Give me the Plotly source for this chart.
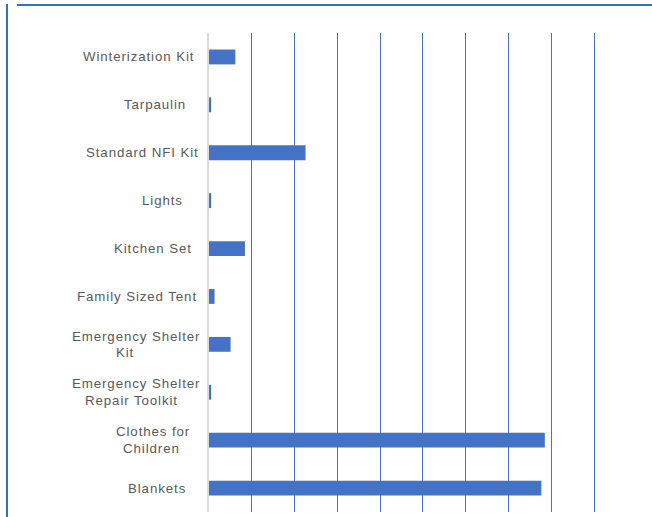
import plotly.graph_objects as go

# ---- data ----
categories = [
    "Winterization Kit",
    "Tarpaulin",
    "Standard NFI Kit",
    "Lights",
    "Kitchen Set",
    "Family Sized Tent",
    "Emergency Shelter Kit",
    "Emergency Shelter Repair Toolkit",
    "Clothes for Children",
    "Blankets",
]
values = [616, 50, 2257, 50, 840, 130, 505, 50, 7850, 7770]
label_lines = [
    ["Winterization Kit"],
    ["Tarpaulin"],
    ["Standard NFI Kit"],
    ["Lights"],
    ["Kitchen Set"],
    ["Family Sized Tent"],
    ["Emergency Shelter", "Kit"],
    ["Emergency Shelter", "Repair Toolkit"],
    ["Clothes for", "Children"],
    ["Blankets"],
]

# ---- style / layout (not data) ----
W, H = 652, 517
ML, MR, MT, MB = 209, 56, 33, 5
PW = W - ML - MR
PH = H - MT - MB
# horizontal centre (px) of each label line
label_centers = [
    [138], [155], [142], [162.7], [152.5], [137],
    [136, 125], [136, 131], [152.5, 151], [157],
]
BAR = "#4472C4"
GRID = "#4472C4"
TXT = "#595959"
FRAME = "#2476C9"


def px_to_paper_x(px):
    return (px - ML) / PW


def px_to_paper_y(py):
    return (H - MB - py) / PH


fig = go.Figure(
    go.Bar(
        y=categories,
        x=values,
        orientation="h",
        marker=dict(color=BAR, line=dict(width=0)),
        width=0.31,
    )
)

annotations = []
for cat, lines, centers in zip(categories, label_lines, label_centers):
    n = len(lines)
    for i, (ln, cx) in enumerate(zip(lines, centers)):
        shift = 0 if n == 1 else (8.3 if i == 0 else -8.3)
        annotations.append(
            dict(
                x=px_to_paper_x(cx),
                xref="paper",
                y=cat,
                yref="y",
                yshift=shift,
                text='<span style="letter-spacing:0.9px">%s</span>' % ln,
                showarrow=False,
                xanchor="center",
                yanchor="middle",
                font=dict(family="Liberation Sans, Arial, sans-serif", size=13.3, color=TXT),
            )
        )

shapes = [
    # top frame line
    dict(type="line", xref="paper", yref="paper",
         x0=px_to_paper_x(17), x1=px_to_paper_x(652),
         y0=px_to_paper_y(5), y1=px_to_paper_y(5),
         line=dict(color=FRAME, width=2)),
    # left frame line
    dict(type="line", xref="paper", yref="paper",
         x0=px_to_paper_x(7), x1=px_to_paper_x(7),
         y0=px_to_paper_y(4), y1=px_to_paper_y(517),
         line=dict(color=FRAME, width=2)),
]

fig.update_layout(
    width=W,
    height=H,
    margin=dict(l=ML, r=MR, t=MT, b=MB, pad=0),
    paper_bgcolor="white",
    plot_bgcolor="white",
    showlegend=False,
    annotations=annotations,
    shapes=shapes,
    xaxis=dict(
        range=[0, 9000 * PW / 385],
        dtick=1000,
        tick0=0,
        showgrid=True,
        gridcolor=GRID,
        gridwidth=1,
        zeroline=False,
        showticklabels=False,
        ticks="",
        showline=False,
        fixedrange=True,
    ),
    yaxis=dict(
        categoryorder="array",
        categoryarray=categories,
        autorange=False,
        range=[9.5, -0.5],
        showticklabels=False,
        ticks="",
        showgrid=False,
        zeroline=False,
        showline=True,
        linecolor="#D9D9D9",
        linewidth=2,
        fixedrange=True,
    ),
)

fig.write_html(
    "out.html",
    config={"displayModeBar": False},
    post_script="document.body.style.margin='0';document.body.style.overflow='hidden';",
)
